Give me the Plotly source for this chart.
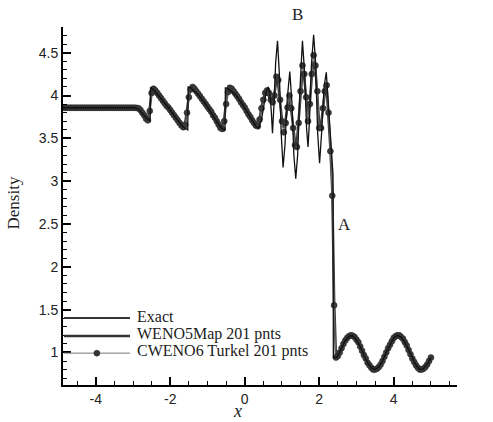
import numpy as np
import plotly.graph_objects as go

# ---- CWENO6 Turkel, 201 points on [-5, 5] ----
rho_cweno6 = [
    3.857, 3.857, 3.857, 3.857, 3.857, 3.857, 3.857, 3.857, 3.857, 3.857,   # -5.00 .. -4.55
    3.857, 3.857, 3.857, 3.857, 3.857, 3.857, 3.857, 3.857, 3.857, 3.857,   # -4.50 .. -4.05
    3.857, 3.857, 3.857, 3.857, 3.857, 3.857, 3.857, 3.857, 3.857, 3.857,   # -4.00 .. -3.55
    3.857, 3.857, 3.857, 3.857, 3.857, 3.857, 3.857, 3.857, 3.857, 3.857,   # -3.50 .. -3.05
    3.857, 3.857, 3.855, 3.85, 3.83, 3.80, 3.77, 3.73, 3.71, 3.82,          # -3.00 .. -2.55
    4.03, 4.08, 4.06, 4.03, 4.00, 3.97, 3.94, 3.91, 3.88, 3.86,             # -2.50 .. -2.05
    3.83, 3.80, 3.77, 3.74, 3.71, 3.68, 3.65, 3.63, 3.66, 3.80,             # -2.00 .. -1.55
    3.98, 4.07, 4.10, 4.08, 4.05, 4.02, 3.99, 3.96, 3.93, 3.90,             # -1.50 .. -1.05
    3.87, 3.84, 3.81, 3.77, 3.74, 3.70, 3.66, 3.62, 3.61, 3.70,             # -1.00 .. -0.55
    3.90, 4.04, 4.09, 4.08, 4.05, 4.02, 3.99, 3.96, 3.92, 3.89,             # -0.50 .. -0.05
    3.86, 3.82, 3.78, 3.75, 3.71, 3.68, 3.65, 3.64, 3.72, 3.85,             #  0.00 ..  0.45
    3.95, 4.03, 4.06, 4.03, 3.95, 3.92, 4.00, 4.22, 4.18, 3.95,             #  0.50 ..  0.95
    3.70, 3.57, 3.68, 3.86, 4.00, 3.85, 3.62, 3.42, 3.40, 3.68,             #  1.00 ..  1.45
    4.05, 4.35, 4.25, 3.98, 3.70, 3.90, 4.25, 4.47, 4.35, 4.05,             #  1.50 ..  1.95
    3.62, 3.62, 3.85, 4.05, 4.12, 3.80, 3.35, 2.83, 1.55, 0.94,             #  2.00 ..  2.45
    0.96, 1.00, 1.05, 1.10, 1.14, 1.17, 1.19, 1.20, 1.195, 1.18,            #  2.50 ..  2.95
    1.15, 1.12, 1.07, 1.02, 0.97, 0.93, 0.88, 0.85, 0.82, 0.80,             #  3.00 ..  3.45
    0.80, 0.81, 0.83, 0.86, 0.90, 0.95, 1.00, 1.05, 1.09, 1.13,             #  3.50 ..  3.95
    1.17, 1.19, 1.20, 1.20, 1.18, 1.16, 1.12, 1.08, 1.03, 0.98,             #  4.00 ..  4.45
    0.93, 0.89, 0.85, 0.82, 0.80, 0.80, 0.81, 0.83, 0.86, 0.90,             #  4.50 ..  4.95
    0.94,                                                                   #  5.00
]

# ---- WENO5Map, 201 points on [-5, 5] ----
rho_weno5map = [
    3.857, 3.857, 3.857, 3.857, 3.857, 3.857, 3.857, 3.857, 3.857, 3.857,
    3.857, 3.857, 3.857, 3.857, 3.857, 3.857, 3.857, 3.857, 3.857, 3.857,
    3.857, 3.857, 3.857, 3.857, 3.857, 3.857, 3.857, 3.857, 3.857, 3.857,
    3.857, 3.857, 3.857, 3.857, 3.857, 3.857, 3.857, 3.857, 3.857, 3.857,
    3.857, 3.857, 3.855, 3.85, 3.83, 3.80, 3.77, 3.73, 3.72, 3.85,
    4.04, 4.08, 4.06, 4.03, 4.00, 3.97, 3.94, 3.91, 3.88, 3.86,
    3.83, 3.80, 3.77, 3.74, 3.71, 3.68, 3.65, 3.63, 3.68, 3.83,
    4.00, 4.08, 4.10, 4.08, 4.05, 4.02, 3.99, 3.96, 3.93, 3.90,
    3.87, 3.84, 3.81, 3.77, 3.74, 3.70, 3.66, 3.62, 3.62, 3.73,
    3.93, 4.05, 4.09, 4.08, 4.05, 4.02, 3.99, 3.96, 3.92, 3.89,
    3.86, 3.82, 3.78, 3.75, 3.71, 3.68, 3.65, 3.64, 3.73, 3.87,
    3.96, 4.03, 4.05, 4.00, 3.93, 3.93, 4.02, 4.18, 4.12, 3.92,
    3.72, 3.62, 3.72, 3.88, 3.96, 3.82, 3.62, 3.46, 3.45, 3.70,
    4.02, 4.28, 4.20, 3.95, 3.74, 3.92, 4.22, 4.40, 4.30, 4.00,
    3.66, 3.66, 3.86, 4.03, 4.08, 3.78, 3.38, 2.90, 1.62, 0.95,
    0.96, 1.00, 1.05, 1.10, 1.14, 1.17, 1.19, 1.20, 1.195, 1.18,
    1.15, 1.12, 1.07, 1.02, 0.97, 0.93, 0.88, 0.85, 0.82, 0.80,
    0.80, 0.81, 0.83, 0.86, 0.90, 0.95, 1.00, 1.05, 1.09, 1.13,
    1.17, 1.19, 1.20, 1.20, 1.18, 1.16, 1.12, 1.08, 1.03, 0.98,
    0.93, 0.89, 0.85, 0.82, 0.80, 0.80, 0.81, 0.83, 0.86, 0.90,
    0.94,
]

x_grid = np.linspace(-5.0, 5.0, 201)

# ---- Reference (exact) solution ----
x_exact = [
    -5.0, -2.95, -2.85, -2.75, -2.65, -2.54, -2.53, -2.45, -2.25, -2.05,
    -1.85, -1.65, -1.53, -1.52, -1.45, -1.25, -1.05, -0.85, -0.65, -0.53,
    -0.52, -0.45, -0.25, -0.05, 0.15, 0.30, 0.38, 0.45, 0.52, 0.58,
    0.63, 0.68, 0.715, 0.745, 0.78, 0.83, 0.88, 0.93, 0.98, 1.03,
    1.08, 1.14, 1.21, 1.27, 1.32, 1.37, 1.42, 1.48, 1.55, 1.61,
    1.66, 1.70, 1.74, 1.79, 1.85, 1.90, 1.96, 2.01, 2.07, 2.13,
    2.19, 2.25, 2.31, 2.37, 2.38, 2.45, 2.5, 2.6, 2.7, 2.8,
    2.9, 3.0, 3.1, 3.2, 3.3, 3.4, 3.5, 3.6, 3.7, 3.8,
    3.9, 4.0, 4.1, 4.2, 4.3, 4.4, 4.5, 4.6, 4.7, 4.8,
    4.9, 5.0,
]
rho_exact = [
    3.857, 3.857, 3.84, 3.79, 3.74, 3.70, 4.09, 4.07, 3.97, 3.86,
    3.74, 3.63, 3.60, 4.10, 4.09, 4.01, 3.90, 3.77, 3.63, 3.59,
    4.09, 4.08, 4.01, 3.89, 3.75, 3.64, 3.62, 3.72, 3.90, 4.05,
    4.10, 4.02, 3.80, 3.56, 3.85, 4.38, 4.64, 4.25, 3.55, 3.16,
    3.42, 3.95, 4.28, 3.90, 3.30, 3.03, 3.30, 4.05, 4.64, 4.25,
    3.62, 3.40, 3.72, 4.35, 4.71, 4.40, 3.55, 3.21, 3.60, 4.10,
    4.27, 3.88, 3.40, 3.08, 0.94, 0.94, 0.96, 1.05, 1.14, 1.19,
    1.195, 1.15, 1.07, 0.97, 0.88, 0.82, 0.80, 0.83, 0.90, 1.00,
    1.09, 1.17, 1.20, 1.18, 1.12, 1.03, 0.93, 0.85, 0.80, 0.81,
    0.86, 0.94,
]

legend_labels = ["Exact", "WENO5Map 201 pnts", "CWENO6 Turkel 201 pnts"]

SERIF = "Liberation Serif"
SANS = "Liberation Sans"

fig = go.Figure()
fig.add_trace(go.Scatter(
    x=x_grid, y=rho_weno5map, mode="lines",
    line=dict(color="#3a3a3a", width=2.5), name=legend_labels[1]))
fig.add_trace(go.Scatter(
    x=x_grid, y=rho_cweno6, mode="lines+markers",
    line=dict(color="#6a6a6a", width=1),
    marker=dict(symbol="circle", size=6, color="#3a3a3a",
                line=dict(width=0.5, color="#222")),
    name=legend_labels[2]))
fig.add_trace(go.Scatter(
    x=x_exact, y=rho_exact, mode="lines",
    line=dict(color="#111", width=1.3), name=legend_labels[0]))

# hand-drawn legend in the lower left corner of the axes
legend_rows = [
    (legend_labels[0], 0.187, dict(color="#333", width=2), False),
    (legend_labels[1], 0.137, dict(color="#333", width=2.5), False),
    (legend_labels[2], 0.089, dict(color="#777", width=1), True),
]
shapes = []
annotations = []
for label, yp, ln, has_marker in legend_rows:
    shapes.append(dict(type="line", xref="paper", yref="paper",
                       x0=0.0025, x1=0.17, y0=yp, y1=yp, line=ln))
    if has_marker:
        shapes.append(dict(type="circle", xref="paper", yref="paper",
                           xsizemode="pixel", ysizemode="pixel",
                           xanchor=0.086, yanchor=yp,
                           x0=-3, x1=3, y0=-3, y1=3,
                           fillcolor="#333", line=dict(color="#222", width=0.5)))
    annotations.append(dict(text=label, xref="paper", yref="paper",
                            x=0.183, y=yp + 0.005, xanchor="left", yanchor="middle",
                            showarrow=False,
                            font=dict(family=SERIF, size=16, color="#222")))

# axis titles
annotations.append(dict(text="Density", xref="paper", yref="paper",
                        x=-0.126, y=0.508, textangle=-90,
                        xanchor="center", yanchor="middle", showarrow=False,
                        font=dict(family=SERIF, size=17, color="#222")))
annotations.append(dict(text="<i>x</i>", xref="paper", yref="paper",
                        x=0.444, y=-0.072, xanchor="center", yanchor="middle",
                        showarrow=False,
                        font=dict(family=SERIF, size=18, color="#222")))
# point labels
annotations.append(dict(text="B", xref="paper", yref="paper", x=0.596, y=1.034,
                        showarrow=False, xanchor="center", yanchor="middle",
                        font=dict(family=SERIF, size=17, color="#222")))
annotations.append(dict(text="A", xref="x", yref="y", x=2.68, y=2.49,
                        showarrow=False, xanchor="center", yanchor="middle",
                        font=dict(family=SERIF, size=17, color="#222")))

axis_common = dict(
    showline=True, linecolor="black", linewidth=2, mirror=False,
    showgrid=False, zeroline=False,
    ticks="inside", ticklen=8, tickwidth=2, tickcolor="black",
    tickfont=dict(family=SANS, size=14, color="#222"),
)

fig.update_layout(
    width=493, height=422,
    margin=dict(l=63, r=36, t=27, b=37),
    paper_bgcolor="white", plot_bgcolor="white",
    showlegend=False,
    xaxis=dict(range=[-4.88, 5.7], tickvals=[-4, -2, 0, 2, 4],
               ticktext=["-4", "-2", "0", "2", "4"],
               minor=dict(dtick=0.5, tick0=0, ticks="inside", ticklen=4,
                          tickwidth=1, tickcolor="black"),
               **axis_common),
    yaxis=dict(range=[0.62, 4.8], tickvals=[1, 1.5, 2, 2.5, 3, 3.5, 4, 4.5],
               ticktext=["1", "1.5", "2", "2.5", "3", "3.5", "4", "4.5"],
               minor=dict(dtick=0.1, tick0=0, ticks="inside", ticklen=4,
                          tickwidth=1, tickcolor="black"),
               **axis_common),
    shapes=shapes,
    annotations=annotations,
)

fig.write_html("out.html")
